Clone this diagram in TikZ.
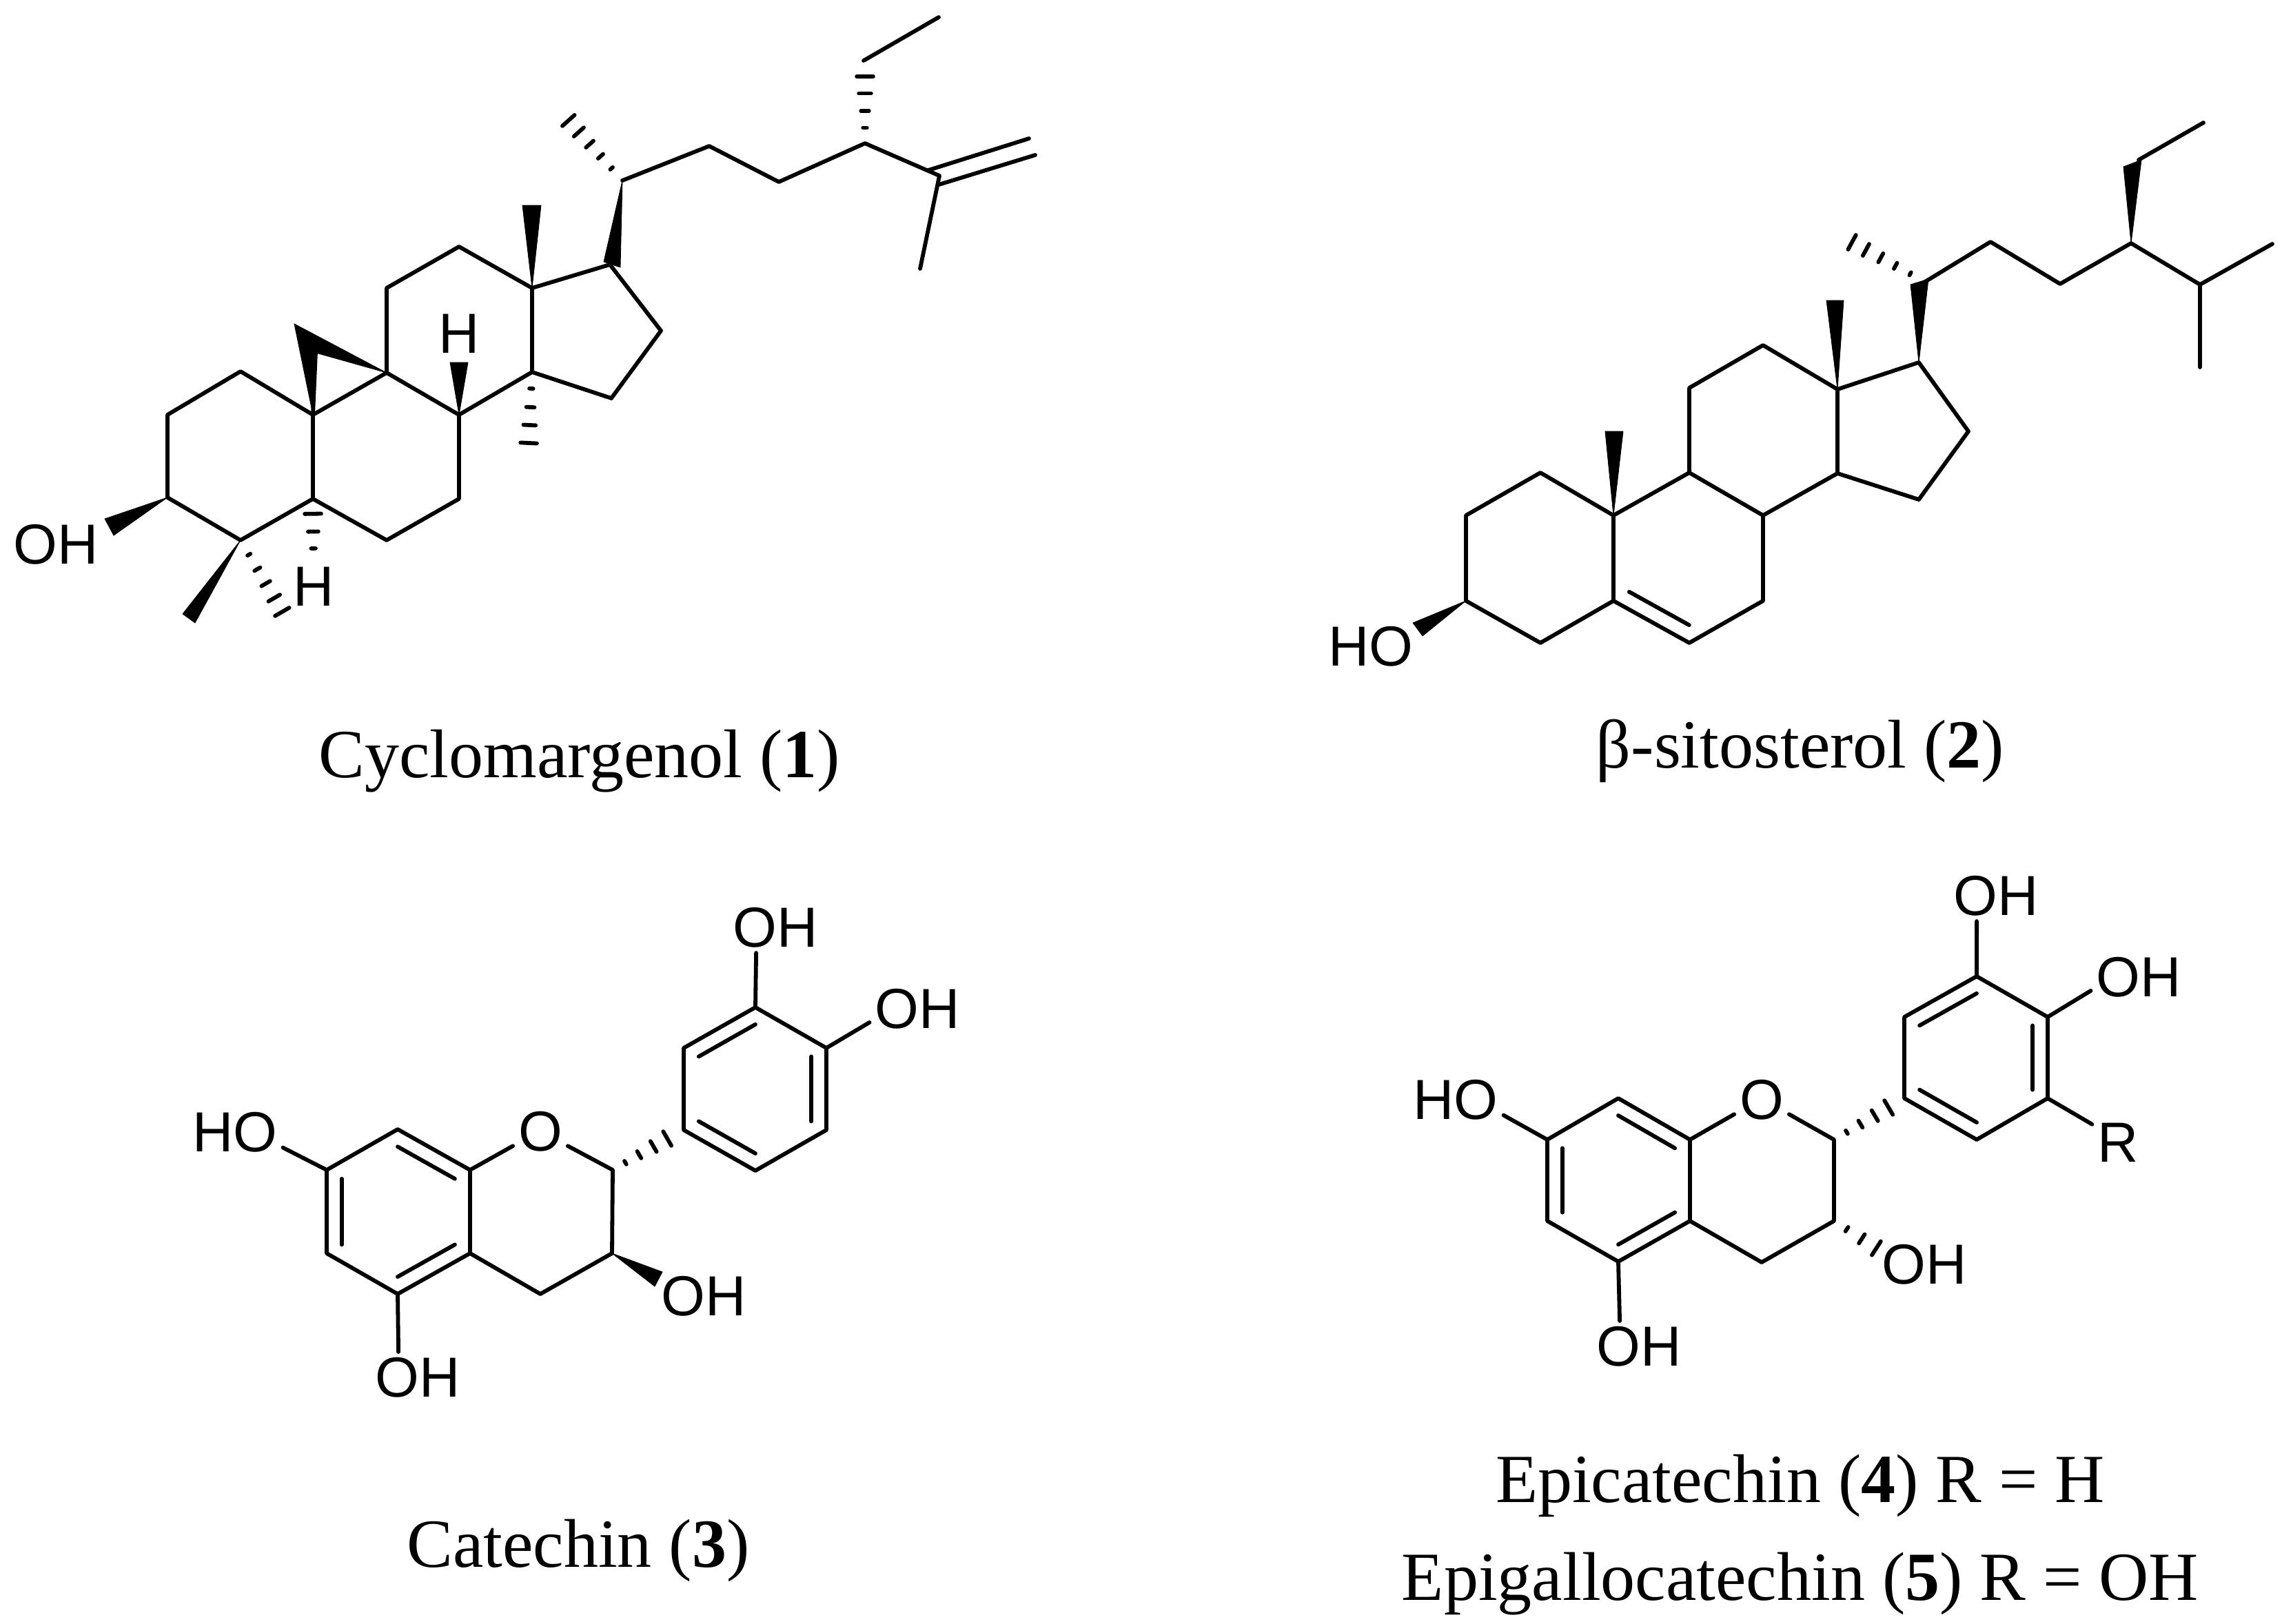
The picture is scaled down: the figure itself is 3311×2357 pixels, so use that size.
\documentclass[tikz,border=0pt]{standalone}
\usepackage{fontspec}
\setmainfont{Liberation Serif}
\newfontfamily\atomfont{Liberation Sans}
\usetikzlibrary{calc}
\tikzset{
  bond/.style={line width=1.45pt, line join=round, line cap=round},
  solidwedge/.style={fill=black, draw=black, line width=0.2pt},
  hashmark/.style={line width=1.45pt, line cap=round},
  atom/.style={font=\atomfont\fontsize{20.5}{24}\selectfont, inner sep=2pt, outer sep=0pt},
  caption/.style={font=\fontsize{25}{30}\selectfont, anchor=base, inner sep=0pt}
}
\newcommand{\hashbond}[3]{
  \foreach \f [evaluate=\f as \w using \f*3] in {#3}
    \draw[hashmark]($(#1)!\f!(#2)!\w pt!90:(#2)$)--($(#1)!\f!(#2)!\w pt!-90:(#2)$);
}
\newcommand{\innerbond}[3]{\draw[bond]($(#1)!.21!(#3)$)--($(#2)!.21!(#3)$);}
\begin{document}
\begin{tikzpicture}[x=0.25pt,y=-0.25pt]
  \useasboundingbox (0,0) rectangle (3311,2357);

  % cyclomargenol
  \coordinate (a1) at (243,602);
  \coordinate (a2) at (349,539);
  \coordinate (a3) at (454,602);
  \coordinate (a4) at (454,724);
  \coordinate (a5) at (349,784);
  \coordinate (a6) at (243,722);
  \coordinate (a7) at (561,541);
  \coordinate (a8) at (666,602);
  \coordinate (a9) at (666,724);
  \coordinate (a10) at (561,784);
  \coordinate (a11) at (561,418);
  \coordinate (a12) at (666,358);
  \coordinate (a13) at (772,418);
  \coordinate (a14) at (772,540);
  \coordinate (a15) at (887,578);
  \coordinate (a16) at (959,480);
  \coordinate (a17) at (885,384);
  \coordinate (a18) at (903,262);
  \coordinate (a19) at (1029,212);
  \coordinate (a20) at (1130,264);
  \coordinate (a21) at (1255,208);
  \coordinate (a22) at (1363,255);
  \coordinate (a23) at (1253,88);
  \coordinate (a24) at (1362,25);
  \coordinate (a25) at (1335,390);
  \coordinate (a26) at (1347,247);
  \coordinate (a27) at (1493,201);
  \coordinate (a28) at (1362,268);
  \coordinate (a29) at (1502,225);
  \coordinate (a30) at (458,512);
  \coordinate (a31) at (427,470);
  \node[atom](oh1) at (81,790){OH};
  \node[atom](h1) at (666,484){H};
  \node[atom](h2) at (455,851){H};

  \draw[bond](a1)--(a2)--(a3)--(a4)--(a5)--(a6)--cycle;
  \draw[bond](a3)--(a7)--(a8)--(a9)--(a10)--(a4);
  \draw[bond](a7)--(a11)--(a12)--(a13)--(a14)--(a8);
  \draw[bond](a13)--(a17)--(a16)--(a15)--(a14);
  \draw[bond](a18)--(a19)--(a20)--(a21)--(a22)--(a25);
  \draw[bond](a23)--(a24);
  \draw[bond](a26)--(a27);
  \draw[bond](a28)--(a29);
  \draw[bond](a3)--(a30);

  \fill[solidwedge](a3)--(a31)--(a7)--(a30)--cycle;
  \fill[solidwedge](a13)--(758,298)--(785,298)--cycle;
  \fill[solidwedge](a18)--(876,380)--(900,388)--cycle;
  \fill[solidwedge](a8)--(653,526)--(679,526)--cycle;
  \fill[solidwedge](a6)--(152,753)--(165,777)--cycle;
  \fill[solidwedge](a5)--(265,891)--(283,904)--cycle;

  \coordinate (k1) at (410,889);
  \coordinate (k2) at (454,745);
  \coordinate (k3) at (767,644);
  \coordinate (k4) at (824,174);
  \coordinate (k5) at (1255,110);
  \hashbond{a5}{k1}{.2,.4,.6,.8,.99}
  \hashbond{h2.north}{k2}{.27,.62,.99}
  \hashbond{a14}{k3}{.23,.49,.74,.99}
  \hashbond{a18}{k4}{.2,.4,.6,.8,.99}
  \hashbond{a21}{k5}{.23,.48,.74,.99}

  \node[caption](t1) at (841,1128){Cyclomargenol (\textbf{1})};

  % sitosterol
  \coordinate (b1) at (2127,748);
  \coordinate (b2) at (2235,686);
  \coordinate (b3) at (2341,748);
  \coordinate (b4) at (2341,872);
  \coordinate (b5) at (2235,933);
  \coordinate (b6) at (2127,872);
  \coordinate (b7) at (2451,686);
  \coordinate (b8) at (2558,748);
  \coordinate (b9) at (2558,872);
  \coordinate (b10) at (2451,933);
  \coordinate (b11) at (2451,563);
  \coordinate (b12) at (2558,501);
  \coordinate (b13) at (2666,565);
  \coordinate (b14) at (2666,687);
  \coordinate (b15) at (2784,725);
  \coordinate (b16) at (2856,626);
  \coordinate (b17) at (2784,526);
  \coordinate (b18) at (2793,409);
  \coordinate (b19) at (2888,351);
  \coordinate (b20) at (2989,412);
  \coordinate (b21) at (3092,353);
  \coordinate (b22) at (3192,413);
  \coordinate (b23) at (3297,354);
  \coordinate (b24) at (3192,533);
  \coordinate (b25) at (3103,232);
  \coordinate (b26) at (3197,178);
  \coordinate (b27) at (2450,810);
  \coordinate (b28) at (2686,351);
  \node[atom](ho2) at (1989,938){HO};

  \draw[bond](b1)--(b2)--(b3)--(b4)--(b5)--(b6)--cycle;
  \draw[bond](b3)--(b7)--(b8)--(b9)--(b10)--(b4);
  \draw[bond](b7)--(b11)--(b12)--(b13)--(b14)--(b8);
  \draw[bond](b13)--(b17)--(b16)--(b15)--(b14);
  \draw[bond](b18)--(b19)--(b20)--(b21)--(b22)--(b23);
  \draw[bond](b22)--(b24);
  \draw[bond](b25)--(b26);
  \innerbond{b4}{b10}{b27}

  \fill[solidwedge](b21)--(3081,242)--(3107,232)--cycle;
  \fill[solidwedge](b17)--(2772,413)--(2798,405)--cycle;
  \fill[solidwedge](b13)--(2650,436)--(2675,436)--cycle;
  \fill[solidwedge](b3)--(2329,626)--(2355,626)--cycle;
  \fill[solidwedge](b6)--(2050,904)--(2064,923)--cycle;
  \hashbond{b18}{b28}{.2,.4,.6,.8,.99}

  \node[caption](t2) at (2612,1114){β-sitosterol (\textbf{2})};

  % catechin
  \coordinate (c1) at (474,1698);
  \coordinate (c2) at (577,1639);
  \coordinate (c3) at (682,1698);
  \coordinate (c4) at (682,1819);
  \coordinate (c5) at (577,1878);
  \coordinate (c6) at (474,1819);
  \coordinate (c7) at (889,1698);
  \coordinate (c8) at (888,1819);
  \coordinate (c9) at (784,1878);
  \coordinate (c10) at (577,1759);
  \coordinate (c11) at (969,1652);
  \coordinate (d1) at (992,1640);
  \coordinate (d2) at (992,1521);
  \coordinate (d3) at (1096,1462);
  \coordinate (d4) at (1199,1521);
  \coordinate (d5) at (1199,1640);
  \coordinate (d6) at (1096,1699);
  \coordinate (d7) at (1096,1580);
  \node[atom](o3) at (784,1642){O};
  \node[atom](ho3) at (341,1643){HO};
  \node[atom](oh3) at (606,1999){OH};
  \node[atom](oh4) at (1021,1881){OH};
  \node[atom](oh5) at (1125,1346){OH};
  \node[atom](oh6) at (1331,1464){OH};

  \draw[bond](c1)--(c2)--(c3)--(c4)--(c5)--(c6)--cycle;
  \draw[bond](c4)--(c9)--(c8)--(c7)--(o3.-28);
  \draw[bond](c3)--(o3.208);
  \draw[bond](d1)--(d2)--(d3)--(d4)--(d5)--(d6)--cycle;
  \draw[bond](c1)--(ho3.-18);
  \draw[bond](c5)--(oh3.127);
  \draw[bond](d3)--(oh5.233);
  \draw[bond](d4)--(oh6.196);
  \innerbond{c2}{c3}{c10}
  \innerbond{c4}{c5}{c10}
  \innerbond{c1}{c6}{c10}
  \innerbond{d2}{d3}{d7}
  \innerbond{d4}{d5}{d7}
  \innerbond{d1}{d6}{d7}

  \fill[solidwedge](c8)--(961,1846)--(950,1867)--cycle;
  \hashbond{c7}{c11}{.23,.48,.74,.99}

  \node[caption](t3) at (839,2274){Catechin (\textbf{3})};

  % epicatechin
  \coordinate (e1) at (2245,1654);
  \coordinate (e2) at (2348,1594);
  \coordinate (e3) at (2452,1654);
  \coordinate (e4) at (2452,1772);
  \coordinate (e5) at (2348,1831);
  \coordinate (e6) at (2245,1772);
  \coordinate (e7) at (2661,1654);
  \coordinate (e8) at (2661,1772);
  \coordinate (e9) at (2556,1832);
  \coordinate (e10) at (2348,1713);
  \coordinate (e11) at (2741,1607);
  \coordinate (e12) at (2723,1812);
  \coordinate (f1) at (2763,1594);
  \coordinate (f2) at (2763,1476);
  \coordinate (f3) at (2868,1417);
  \coordinate (f4) at (2971,1476);
  \coordinate (f5) at (2971,1594);
  \coordinate (f6) at (2868,1654);
  \coordinate (f7) at (2868,1535);
  \node[atom](o7) at (2556,1596){O};
  \node[atom](ho7) at (2112,1596){HO};
  \node[atom](oh7) at (2378,1954){OH};
  \node[atom](oh8) at (2792,1835){OH};
  \node[atom](oh9) at (2896,1300){OH};
  \node[atom](oh10) at (3103,1418){OH};
  \node[atom](r1) at (3073,1658){R};

  \draw[bond](e1)--(e2)--(e3)--(e4)--(e5)--(e6)--cycle;
  \draw[bond](e4)--(e9)--(e8)--(e7)--(o7.-28);
  \draw[bond](e3)--(o7.208);
  \draw[bond](f1)--(f2)--(f3)--(f4)--(f5)--(f6)--cycle;
  \draw[bond](e1)--(ho7.-18);
  \draw[bond](e5)--(oh7.127);
  \draw[bond](f3)--(oh9.233);
  \draw[bond](f4)--(oh10.196);
  \draw[bond](f5)--(r1.145);
  \innerbond{e2}{e3}{e10}
  \innerbond{e4}{e5}{e10}
  \innerbond{e1}{e6}{e10}
  \innerbond{f2}{f3}{f7}
  \innerbond{f4}{f5}{f7}
  \innerbond{f1}{f6}{f7}

  \hashbond{e7}{e11}{.23,.48,.74,.99}
  \hashbond{e8}{e12}{.3,.65,.99}

  \node[caption](t4) at (2612,2180){Epicatechin (\textbf{4}) R = H};
  \node[caption](t5) at (2612,2322){Epigallocatechin (\textbf{5}) R = OH};
\end{tikzpicture}
\end{document}
